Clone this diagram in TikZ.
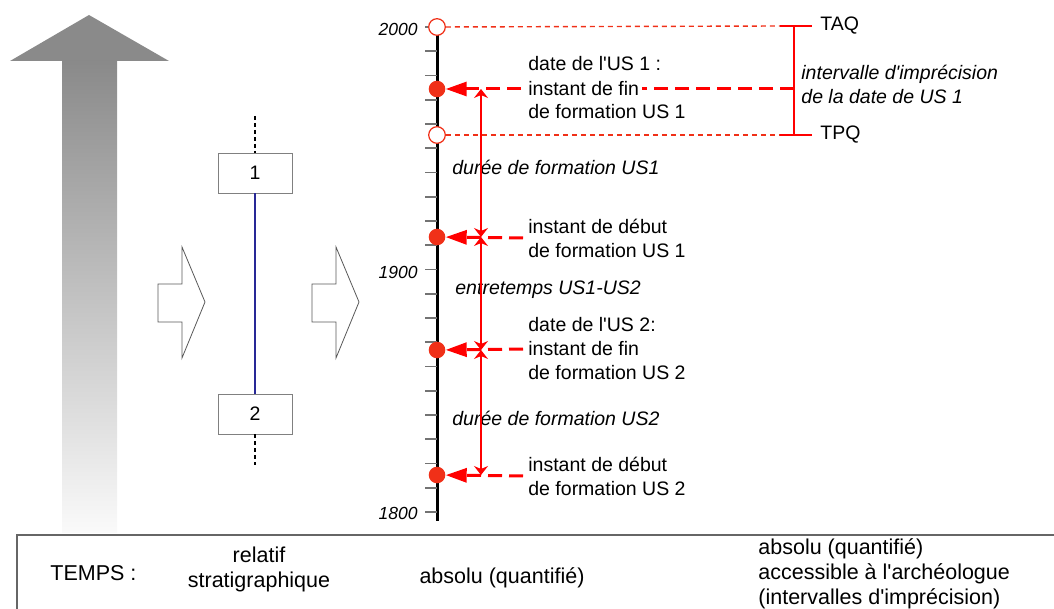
\documentclass[tikz,border=0pt]{standalone}
\usepackage{fontspec}
\setmainfont{Liberation Sans}
\usetikzlibrary{shapes,arrows.meta,positioning,calc,backgrounds}
\definecolor{dotred}{RGB}{240,48,24}
\definecolor{linered}{RGB}{255,0,0}
\definecolor{usblue}{RGB}{40,40,150}
\newcommand{\lbl}{\fontsize{9.75}{12}\selectfont}
\newcommand{\bottomlbl}{\fontsize{10.75}{12.5}\selectfont}
\newcommand{\apos}{\textquotesingle}

\begin{document}
\begin{tikzpicture}[x=0.5pt, y=-0.5pt,
    usbox/.style = {rectangle, draw=black!50, fill=white, minimum width=37pt, minimum height=20pt, inner sep=0pt, font=\lbl},
    blockarrow/.style = {draw=black!65, fill=white, line width=0.4pt},
    filleddot/.style = {circle, fill=dotred, minimum size=8.3pt, inner sep=0pt},
    opendot/.style = {circle, draw=dotred, fill=white, line width=0.6pt, minimum size=8.3pt, inner sep=0pt},
    pointer/.style = {linered, line width=1.5pt, dash pattern=on 7pt off 3.5pt, -{Triangle[length=10.5pt, width=7pt]}},
    span/.style = {linered, line width=0.6pt, {Stealth[length=4.5pt, width=7pt, inset=1.5pt]}-{Stealth[length=4.5pt, width=7pt, inset=1.5pt]}},
    guide/.style = {dotred, line width=0.7pt, dash pattern=on 2.5pt off 2pt},
    bracket/.style = {linered, line width=1pt},
    txt/.style = {font=\lbl, align=left, inner sep=0pt, anchor=west},
    itxt/.style = {font=\lbl\itshape, align=left, inner sep=0pt, anchor=west},
    year/.style = {font=\fontsize{8.75}{10}\selectfont\itshape, anchor=east, inner sep=0pt},
    btxt/.style = {font=\bottomlbl, inner sep=0pt},
    ]
        \useasboundingbox (0,0) rectangle (1054,609);

        % Time arrow
        \fill[black!46] (10,61) -- (89,15) -- (169,61) -- cycle;
        \shade[top color=black!46, bottom color=black!2] (62,61) rectangle (117,532);

        % Stratigraphic units
        \node[usbox] (us1) at (255,173) {1};
        \node[usbox] (us2) at (255,414) {2};
        \coordinate (abovetop) at (255,116);
        \coordinate (belowbot) at (255,465);
        \draw[usblue, line width=0.8pt] (us1) -- (us2);
        \draw[line width=0.8pt, dash pattern=on 2pt off 1.5pt] (abovetop) -- (us1.north);
        \draw[line width=0.8pt, dash pattern=on 2pt off 1.5pt] (us2.south) -- (belowbot);

        \foreach \dx in {0,154}
            \draw[blockarrow, shift={(\dx,0)}] (158,284) -- (182,284) -- (182,247) -- (205,302) -- (182,358) -- (182,322) -- (158,322) -- cycle;

        % Time axis
        \draw[line width=1.5pt] (437,30) -- (437,521);
        \foreach \k in {0,...,20}
            \draw[black!55, line width=0.8pt] (425,{27+24.25*\k}) -- (437,{27+24.25*\k});
        \node[year] (y2000) at (418,29) {2000};
        \node[year] (y1900) at (418,272) {1900};
        \node[year] (y1800) at (418,513) {1800};

        % Dates
        \node[opendot] (taqdot) at (437,27) {};
        \node[filleddot] (fin1) at (437,89) {};
        \node[opendot] (tpqdot) at (437,135) {};
        \node[filleddot] (deb1) at (437,237) {};
        \node[filleddot] (fin2) at (437,350) {};
        \node[filleddot] (deb2) at (437,475) {};

        % Labels
        \node[txt] (lfin1a) at (528,64) {date de l\apos US 1 :};
        \node[txt, fill=white, inner xsep=1.5pt] (lfin1) at (525,89) {instant de fin};
        \node[txt] (lfin1c) at (528,112) {de formation US 1};
        \node[txt] (ldeb1) at (528,238) {instant de début\\de formation US 1};
        \node[txt] (lfin2) at (528,349) {date de l\apos US 2:\\instant de fin\\de formation US 2};
        \node[txt] (ldeb2) at (528,476) {instant de début\\de formation US 2};
        \node[itxt] (dur1) at (452,167) {durée de formation US1};
        \node[itxt] (entre) at (455,290) {entretemps US1-US2};
        \node[itxt] (dur2) at (452,418) {durée de formation US2};

        % Interval of imprecision
        \coordinate (taq) at (794,26);
        \coordinate (tpq) at (794,135);
        \coordinate (mid1) at (794,89);
        \coordinate (taqa) at (780,26);
        \coordinate (taqb) at (812,26);
        \coordinate (tpqa) at (780,135);
        \coordinate (tpqb) at (812,135);
        \draw[guide] (taqdot) -- (taqa);
        \draw[guide] (tpqdot) -- (tpqa);
        \draw[bracket] (taqa) -- (taqb);
        \draw[bracket] (tpqa) -- (tpqb);
        \draw[bracket] (taq) -- (tpq);
        \node[font=\lbl, inner sep=0pt, right=4pt of taqb] (taqlbl) {TAQ};
        \node[font=\lbl, inner sep=0pt, right=4pt of tpqb] (tpqlbl) {TPQ};
        \node[itxt] (interval) at (801,84) {intervalle d\apos imprécision\\de la date de US 1};

        % Pointers
        \begin{scope}[on background layer]
            \draw[pointer] (mid1) -- (fin1);
        \end{scope}
        \draw[pointer, shorten <=2.5pt] (ldeb1.west) -- (deb1);
        \draw[pointer, shorten <=2.5pt] (lfin2.west) -- (fin2);
        \draw[pointer, shorten <=2.5pt] (ldeb2.west) -- (deb2);

        % Spans between the dates
        \coordinate (s1) at (481,89);
        \coordinate (s2) at (481,237);
        \coordinate (s3) at (481,350);
        \coordinate (s4) at (481,475);
        \draw[span] (s1) -- (s2);
        \draw[span] (s2) -- (s3);
        \draw[span] (s3) -- (s4);

        % Kinds of time
        \draw[black!60, line width=0.6pt] (17,615) -- (17,535) -- (1060,535);
        \node[btxt, anchor=west] (temps) at (50,573) {TEMPS :};
        \node[btxt, align=center] (relatif) at (259,569) {relatif\\stratigraphique};
        \node[btxt] (absolu) at (502,578) {absolu (quantifié)};
        \node[btxt, align=left, anchor=west] (access) at (758,574) {absolu (quantifié)\\accessible à l\apos archéologue\\(intervalles d\apos imprécision)};
    \end{tikzpicture}
\end{document}
